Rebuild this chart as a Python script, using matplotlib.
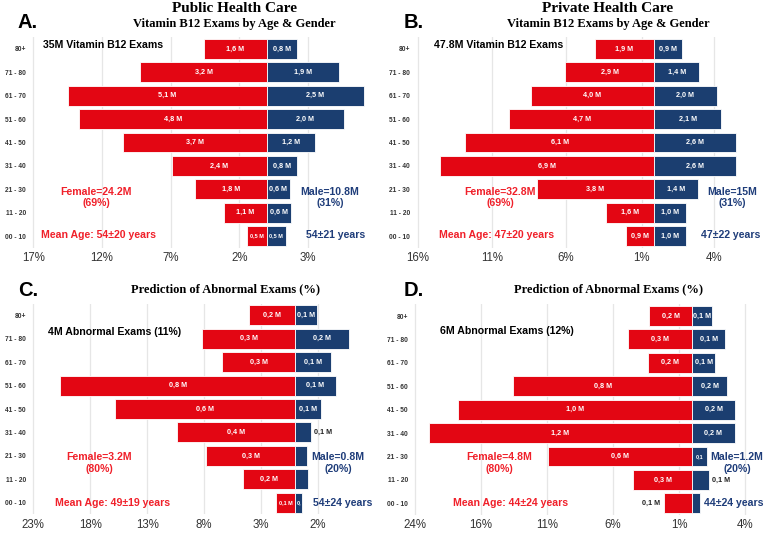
import matplotlib.pyplot as plt

plt.rcParams['font.family'] = ['Liberation Sans', 'DejaVu Sans']

ages = ['80+', '71 - 80', '61 - 70', '51 - 60', '41 - 50', '31 - 40', '21 - 30', '11 - 20', '00 - 10']

# bar lengths in % of exams (top row = 80+)
a_fem = [4.6, 9.2, 14.5, 13.7, 10.5, 6.9, 5.2, 3.1, 1.4]
a_male = [2.2, 5.3, 7.1, 5.6, 3.5, 2.2, 1.7, 1.75, 1.4]
b_fem = [4.0, 6.0, 8.3, 9.75, 12.7, 14.35, 7.9, 3.25, 1.88]
b_male = [1.85, 3.0, 4.18, 4.5, 5.5, 5.45, 2.95, 2.15, 2.1]
c_fem = [4.04, 8.17, 6.41, 20.66, 15.83, 10.39, 7.81, 4.62, 1.73]
c_male = [1.87, 4.71, 3.13, 3.54, 2.25, 1.35, 1.05, 1.11, 0.61]
d_fem = [3.26, 4.87, 3.36, 13.56, 17.73, 19.97, 10.93, 4.49, 2.17]
d_male = [1.49, 2.47, 1.72, 2.65, 3.23, 3.21, 1.14, 1.26, 0.58]

a_fem_lab = ['1,6 M', '3,2 M', '5,1 M', '4,8 M', '3,7 M', '2,4 M', '1,8 M', '1,1 M', '0,5 M']
a_male_lab = ['0,8 M', '1,9 M', '2,5 M', '2,0 M', '1,2 M', '0,8 M', '0,6 M', '0,6 M', '0,5 M']
b_fem_lab = ['1,9 M', '2,9 M', '4,0 M', '4,7 M', '6,1 M', '6,9 M', '3,8 M', '1,6 M', '0,9 M']
b_male_lab = ['0,9 M', '1,4 M', '2,0 M', '2,1 M', '2,6 M', '2,6 M', '1,4 M', '1,0 M', '1,0 M']
c_fem_lab = ['0,2 M', '0,3 M', '0,3 M', '0,8 M', '0,6 M', '0,4 M', '0,3 M', '0,2 M', '0,1 M']
c_male_lab = ['0,1 M', '0,2 M', '0,1 M', '0,1 M', '0,1 M', '0,1 M', '', '', '0,']
d_fem_lab = ['0,2 M', '0,3 M', '0,2 M', '0,8 M', '1,0 M', '1,2 M', '0,6 M', '0,3 M', '0,1 M']
d_male_lab = ['0,1 M', '0,1 M', '0,1 M', '0,2 M', '0,2 M', '0,2 M', '0,1', '0,1 M', '']

a_ticks = [-17, -12, -7, -2, 3]
a_tlab = ['17%', '12%', '7%', '2%', '3%']
b_ticks = [-15.85, -10.9, -5.95, -0.85, 4.0]
b_tlab = ['16%', '11%', '6%', '1%', '4%']
c_ticks = [-23, -18, -13, -8, -3, 2]
c_tlab = ['23%', '18%', '13%', '8%', '3%', '2%']
d_ticks = [-21, -16, -11, -6, -1, 4]
d_tlab = ['24%', '16%', '11%', '6%', '1%', '4%']

RED = '#E30613'
NAVY = '#1B3E70'
TRED = '#F0202A'
TNAVY = '#1F3D7A'

W, H = 767, 536
fig = plt.figure(figsize=(W / 100, H / 100), dpi=100)


def ftext(x, y, s, **kw):
    fig.text(x / W, 1 - y / H, s, **kw)


def panel(cx, scale, left, right, top, bottom, fem, male, fl, ml, ticks, tlab,
          fem_out=(), male_out=(), small=()):
    ax = fig.add_axes([left / W, 1 - bottom / H, (right - left) / W, (bottom - top) / H])
    n = len(ages)
    y = [n - 1 - i for i in range(n)]
    ax.barh(y, [-v for v in fem], height=0.85, color=RED, edgecolor='white', lw=0.6, zorder=2)
    ax.barh(y, male, height=0.85, color=NAVY, edgecolor='white', lw=0.6, zorder=2)
    for i in range(n):
        for val, lab, sign, out in ((fem[i], fl[i], -1, fem_out), (male[i], ml[i], 1, male_out)):
            if not lab:
                continue
            fs = 4 if (sign, i) in small else 5.2
            if i in out:
                ax.text(sign * (val + 0.25), y[i], lab, ha='left' if sign > 0 else 'right',
                        va='center', fontsize=fs, fontweight='bold', color='#222222', zorder=3)
            else:
                ax.text(sign * val / 2, y[i], lab, ha='center', va='center',
                        fontsize=fs, fontweight='bold', color='white', zorder=3)
    ax.set_xlim((left - cx) / scale, (right - cx) / scale)
    ax.set_ylim(-0.5, n - 0.5)
    ax.set_yticks(y)
    ax.set_yticklabels(ages, fontsize=4.8, fontweight='bold', color='#333333')
    ax.set_xticks(ticks)
    ax.set_xticklabels(tlab, fontsize=8.3, color='#333333')
    ax.tick_params(length=0, pad=3)
    for t in ticks:
        ax.axvline(t, color='#e6e6e6', lw=0.9, zorder=0)
    for sp in ax.spines.values():
        sp.set_visible(False)
    return ax


panel(266.7, 13.73, 30, 385, 37.3, 247.7, a_fem, a_male, a_fem_lab, a_male_lab, a_ticks, a_tlab,
      small=((-1, 8), (1, 8)))
panel(654.3, 14.9, 414, 765, 37.3, 247.7, b_fem, b_male, b_fem_lab, b_male_lab, b_ticks, b_tlab)
panel(295.3, 11.39, 30, 385, 303.6, 514.4, c_fem, c_male, c_fem_lab, c_male_lab, c_ticks, c_tlab,
      male_out=(5,), small=((-1, 8), (1, 8)))
panel(692.3, 13.2, 412, 765, 304.3, 515.0, d_fem, d_male, d_fem_lab, d_male_lab, d_ticks, d_tlab,
      fem_out=(8,), male_out=(7,), small=((1, 6),))

serif = ['Liberation Serif', 'DejaVu Serif']
for x, yy, s in ((18, 22, 'A.'), (404, 22, 'B.'), (18, 290, 'C.'), (404, 290, 'D.')):
    ftext(x, yy, s, fontsize=14.5, fontweight='bold', ha='left', va='center')

ftext(234, 9, 'Public Health Care', family=serif, fontsize=11, fontweight='bold', ha='center', va='center')
ftext(234, 24, 'Vitamin B12 Exams by Age & Gender', family=serif, fontsize=9, fontweight='bold',
      ha='center', va='center')
ftext(608, 9, 'Private Health Care', family=serif, fontsize=11, fontweight='bold', ha='center', va='center')
ftext(608, 24, 'Vitamin B12 Exams by Age & Gender', family=serif, fontsize=9, fontweight='bold',
      ha='center', va='center')
ftext(226, 289, 'Prediction of Abnormal Exams (%)', family=serif, fontsize=9, fontweight='bold',
      ha='center', va='center')
ftext(609, 289, 'Prediction of Abnormal Exams (%)', family=serif, fontsize=9, fontweight='bold',
      ha='center', va='center')

notes = [
    (43, 45, '35M Vitamin B12 Exams', 'black', 'left'),
    (96, 197.5, 'Female=24.2M\n(69%)', TRED, 'center'),
    (41, 235, 'Mean Age: 54±20 years', TRED, 'left'),
    (330, 197.5, 'Male=10.8M\n(31%)', TNAVY, 'center'),
    (306, 235, '54±21 years', TNAVY, 'left'),
    (434, 45, '47.8M Vitamin B12 Exams', 'black', 'left'),
    (500, 197.5, 'Female=32.8M\n(69%)', TRED, 'center'),
    (439, 235, 'Mean Age: 47±20 years', TRED, 'left'),
    (732, 197.5, 'Male=15M\n(31%)', TNAVY, 'center'),
    (701, 235, '47±22 years', TNAVY, 'left'),
    (48, 332, '4M Abnormal Exams (11%)', 'black', 'left'),
    (99, 463, 'Female=3.2M\n(80%)', TRED, 'center'),
    (55, 503, 'Mean Age: 49±19 years', TRED, 'left'),
    (338, 463, 'Male=0.8M\n(20%)', TNAVY, 'center'),
    (313, 503, '54±24 years', TNAVY, 'left'),
    (440, 331, '6M Abnormal Exams (12%)', 'black', 'left'),
    (499, 463, 'Female=4.8M\n(80%)', TRED, 'center'),
    (453, 503, 'Mean Age: 44±24 years', TRED, 'left'),
    (737, 463, 'Male=1.2M\n(20%)', TNAVY, 'center'),
    (704, 503, '44±24 years', TNAVY, 'left'),
]
for x, yy, s, c, ha in notes:
    ftext(x, yy, s, fontsize=7.6, fontweight='bold', color=c, ha=ha, va='center',
          multialignment='center', linespacing=1.15)

fig.savefig('out.png', dpi=100)
